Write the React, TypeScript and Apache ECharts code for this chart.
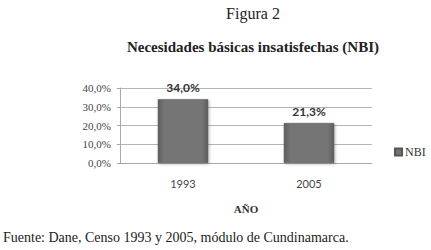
import React, { useEffect, useRef } from "react";
import * as echarts from "echarts";

const categories = ["1993", "2005"];
const nbiValues = [34.0, 21.3];
const seriesName = "NBI";
const yTicks = [0, 10, 20, 30, 40];

const fmt = (v: number) => v.toFixed(1).replace(".", ",") + "%";

export default function App() {
  const ref = useRef<HTMLDivElement>(null);
  useEffect(() => {
    document.body.style.margin = "0";
    const chart = echarts.init(ref.current!, null, { renderer: "svg" });
    const serif = "Liberation Serif";
    chart.setOption({
      animation: false,
      backgroundColor: "#ffffff",
      graphic: [
        { type: "text", x: 253, y: 13, style: { text: "Figura 2", font: "16px 'Liberation Serif'", fill: "#222", textAlign: "center", textVerticalAlign: "middle" } },
        { type: "text", x: 253, y: 47, style: { text: "Necesidades básicas insatisfechas (NBI)", font: "bold 15px 'Liberation Serif'", fill: "#222", textAlign: "center", textVerticalAlign: "middle" } },
        { type: "text", x: 3, y: 237, style: { text: "Fuente: Dane, Censo 1993 y 2005, módulo de Cundinamarca.", font: "14px 'Liberation Serif'", fill: "#222", textAlign: "left", textVerticalAlign: "middle" } },
      ],
      legend: {
        data: [seriesName],
        left: 389,
        top: 141,
        icon: "rect",
        itemWidth: 7,
        itemHeight: 7,
        itemGap: 4,
        textStyle: { fontFamily: serif, fontSize: 12, color: "#333", padding: [0, 0, 0, -2] },
      },
      grid: { left: 120, right: 59, top: 88, bottom: 87, containLabel: false },
      xAxis: {
        type: "category",
        data: categories,
        name: "AÑO",
        nameLocation: "middle",
        nameGap: 40,
        nameTextStyle: { fontFamily: serif, fontWeight: "bold", fontSize: 11, color: "#333" },
        axisLine: { lineStyle: { color: "#a8a8a8" } },
        axisTick: { show: false },
        axisLabel: { fontFamily: "Lato", fontSize: 11, color: "#444", margin: 15 },
      },
      yAxis: {
        type: "value",
        min: yTicks[0],
        max: yTicks[yTicks.length - 1],
        interval: 10,
        axisLine: { show: true, lineStyle: { color: "#a8a8a8" } },
        axisTick: { show: true, length: 3, lineStyle: { color: "#a8a8a8" } },
        splitLine: { lineStyle: { color: "#b4b4b4" } },
        axisLabel: { formatter: (v: number) => fmt(v), fontFamily: serif, fontSize: 11, color: "#444", margin: 9 },
      },
      series: [
        {
          name: seriesName,
          type: "bar",
          data: nbiValues,
          barWidth: "40%",
          itemStyle: {
            color: new echarts.graphic.LinearGradient(0, 0, 1, 0, [
              { offset: 0, color: "#5e5e5e" },
              { offset: 0.12, color: "#747474" },
              { offset: 0.88, color: "#747474" },
              { offset: 1, color: "#5e5e5e" },
            ]),
            borderColor: "#555",
            borderWidth: 0.5,
            shadowColor: "rgba(0,0,0,0.3)",
            shadowBlur: 3,
            shadowOffsetX: 1,
            shadowOffsetY: 1,
          },
          label: {
            show: true,
            position: "top",
            distance: 6,
            formatter: (p: any) => fmt(p.value),
            fontFamily: "Lato",
            fontWeight: "bold",
            fontSize: 12,
            color: "#333",
          },
        },
      ],
    });
    return () => chart.dispose();
  }, []);
  return <div ref={ref} style={{ width: 431, height: 250 }} />;
}
